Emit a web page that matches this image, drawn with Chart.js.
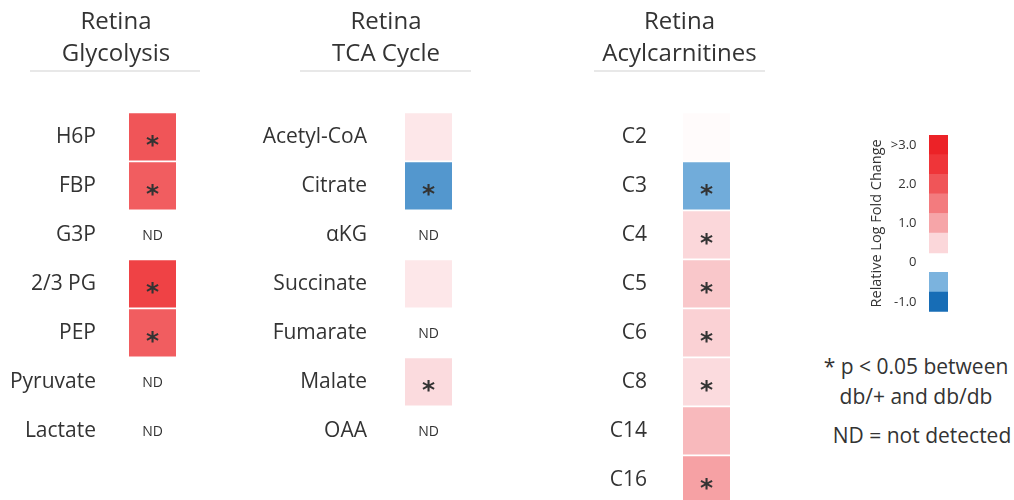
<!DOCTYPE html>
<html>
<head>
<meta charset="utf-8">
<script src="https://cdn.jsdelivr.net/npm/chart.js@4.4.1/dist/chart.umd.min.js"></script>
<style>
  body { margin: 0; width: 1014px; height: 500px; overflow: hidden; background: #fff; font-family: "Open Sans", sans-serif; position: relative; }
  canvas { position: absolute; }
  .note { position: absolute; color: #333; font-size: 21px; text-align: center; width: 230px; }
</style>
</head>
<body>
<canvas id="glyChart" width="232" height="510" style="left:0;top:0"></canvas>
<canvas id="tcaChart" width="272" height="510" style="left:250px;top:0"></canvas>
<canvas id="acylChart" width="179" height="560" style="left:590px;top:0"></canvas>
<canvas id="scaleChart" width="88" height="219" style="left:860px;top:114px"></canvas>
<div class="note" style="left:801px;top:351px;line-height:30px">* p &lt; 0.05 between<br>db/+ and db/db</div>
<div class="note" style="left:807px;top:421px">ND = not detected</div>
<script>
// relative log fold change (null = not detected)
var glyLabels = ["H6P", "FBP", "G3P", "2/3 PG", "PEP", "Pyruvate", "Lactate"];
var glyValues = [2.0, 1.9, null, 2.3, 1.9, null, null];
var glySig = [true, true, false, true, true, false, false];

var tcaLabels = ["Acetyl-CoA", "Citrate", "\u03b1KG", "Succinate", "Fumarate", "Malate", "OAA"];
var tcaValues = [0.3, -0.7, null, 0.3, null, 0.45, null];
var tcaSig = [false, true, false, false, false, true, false];

var acylLabels = ["C2", "C3", "C4", "C5", "C6", "C8", "C14", "C16"];
var acylValues = [0.05, -0.55, 0.5, 0.66, 0.56, 0.45, 0.8, 1.05];
var acylSig = [false, true, true, true, true, true, false, true];

// colour key: slots from top to bottom
var scaleTicks = [">3.0", "", "2.0", "", "1.0", "", "0", "", "-1.0"];
var scaleLevels = [3.0, 2.5, 2.0, 1.5, 1.0, 0.5, null, -0.5, -1.0];

var redStops = ["#fbd7da", "#f6a5a8", "#f37b7e", "#f05558", "#ef3539", "#ec2227"]; // 0.5 .. 3.0
var blueStops = ["#7bb3de", "#176db6"]; // -0.5, -1.0

function hexRgb(h) {
  return [parseInt(h.substr(1, 2), 16), parseInt(h.substr(3, 2), 16), parseInt(h.substr(5, 2), 16)];
}
function mix(a, b, t) {
  var c1 = hexRgb(a), c2 = hexRgb(b);
  return "rgb(" + c1.map(function (c, i) { return Math.round(c + (c2[i] - c) * t); }).join(",") + ")";
}
function heatColor(v) {
  if (v === null) return "rgba(0,0,0,0)";
  var stops = v >= 0 ? redStops : blueStops;
  var pos = Math.min(Math.abs(v) / 0.5, stops.length);
  var i = Math.floor(pos);
  if (i >= stops.length) return stops[stops.length - 1];
  var from = i === 0 ? "#ffffff" : stops[i - 1];
  return mix(from, stops[i], pos - i);
}

var cellMarks = {
  id: "cellMarks",
  afterDatasetsDraw: function (chart, args, opts) {
    if (!opts.values) return;
    var ctx = chart.ctx, xs = chart.scales.x, ys = chart.scales.y;
    var xc = (xs.getPixelForValue(0) + xs.getPixelForValue(1)) / 2;
    ctx.save();
    ctx.textAlign = "center";
    ctx.textBaseline = "alphabetic";
    ctx.fillStyle = "#333";
    opts.values.forEach(function (v, i) {
      var y = ys.getPixelForValue(i);
      if (v === null) {
        ctx.font = '14px "Open Sans"';
        ctx.fillText("ND", xc, y + 5);
      } else if (opts.sig[i]) {
        ctx.font = 'bold 25px "DejaVu Sans"';
        ctx.fillText("*", xc, y + 16.5);
      }
    });
    ctx.strokeStyle = "#e8e8e8";
    ctx.lineWidth = 2;
    ctx.beginPath();
    ctx.moveTo(opts.line[0], opts.line[2]);
    ctx.lineTo(opts.line[1], opts.line[2]);
    ctx.stroke();
    ctx.restore();
  }
};

function makePanel(id, title, labels, values, sig, yWidth, xMax, tickPad, padBottom, line) {
  return new Chart(document.getElementById(id), {
    type: "bar",
    data: {
      labels: labels,
      datasets: [{
        data: values.map(function (v) { return v === null ? null : [0, 1]; }),
        backgroundColor: values.map(heatColor),
        borderWidth: 0,
        barPercentage: 0.965,
        categoryPercentage: 1
      }]
    },
    options: {
      indexAxis: "y",
      responsive: false,
      animation: false,
      layout: { padding: { top: 0, bottom: padBottom, left: 0, right: 0 } },
      scales: {
        x: { display: false, min: 0, max: xMax },
        y: {
          grid: { display: false, drawTicks: false },
          border: { display: false },
          ticks: { font: { family: "Open Sans", size: 21 }, color: "#333", padding: tickPad, autoSkip: false },
          afterFit: function (s) { s.width = yWidth; }
        }
      },
      plugins: {
        legend: { display: false },
        tooltip: { enabled: false },
        title: {
          display: true,
          text: ["Retina", title],
          color: "#333",
          font: { family: "Open Sans", size: 24, weight: "normal", lineHeight: 1.3 },
          padding: { top: 7, bottom: 43 }
        },
        cellMarks: { values: values, sig: sig, line: line }
      }
    },
    plugins: [cellMarks]
  });
}

makePanel("glyChart", "Glycolysis", glyLabels, glyValues, glySig, 129, 103 / 47, 33, 54.6, [30, 200, 71]);
makePanel("tcaChart", "TCA Cycle", tcaLabels, tcaValues, tcaSig, 155, 117 / 47, 38, 54.6, [50, 221, 71]);
makePanel("acylChart", "Acylcarnitines", acylLabels, acylValues, acylSig, 93, 86 / 47, 36, 55.6, [4, 175, 71]);

new Chart(document.getElementById("scaleChart"), {
  type: "bar",
  data: {
    labels: scaleTicks,
    datasets: [{
      data: scaleLevels.map(function (v) { return v === null ? null : 1; }),
      backgroundColor: scaleLevels.map(function (v) {
        if (v === null) return "rgba(0,0,0,0)";
        return v > 0 ? redStops[v / 0.5 - 1] : blueStops[-v / 0.5 - 1];
      }),
      borderWidth: 0,
      barPercentage: 1,
      categoryPercentage: 1
    }]
  },
  options: {
    indexAxis: "y",
    responsive: false,
    animation: false,
    layout: { padding: { top: 21, bottom: 21.3, left: 0, right: 0 } },
    scales: {
      x: { display: false, min: 0, max: 1 },
      y: {
        grid: { display: false, drawTicks: false },
        border: { display: false },
        ticks: { font: { family: "Open Sans", size: 13 }, color: "#333", padding: 12.5, autoSkip: false },
        title: {
          display: true,
          text: "Relative Log Fold Change",
          color: "#333",
          font: { family: "Open Sans", size: 14.5 },
          padding: { top: 8, bottom: 0 }
        },
        afterFit: function (s) { s.width = 69; }
      }
    },
    plugins: { legend: { display: false }, tooltip: { enabled: false } }
  }
});
</script>
</body>
</html>
